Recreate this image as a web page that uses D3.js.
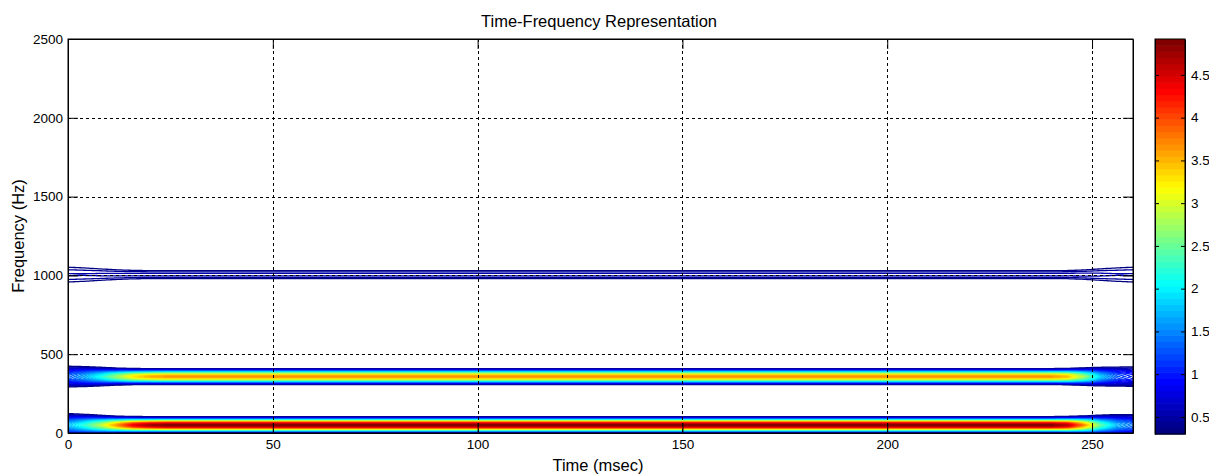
<!DOCTYPE html>
<html>
<head>
<meta charset="utf-8">
<script src="https://cdn.jsdelivr.net/npm/d3@7"></script>
<style>
  body { margin: 0; background: #fff; }
  svg { font-family: "Liberation Sans", Arial, sans-serif; }
</style>
</head>
<body>
<svg id="chart" width="1209" height="476"></svg>
<script>
// ---- data ----
var timeTicks = [0, 50, 100, 150, 200, 250];
var freqTicks = [0, 500, 1000, 1500, 2000, 2500];
var cbarTicks = [0.5, 1, 1.5, 2, 2.5, 3, 3.5, 4, 4.5];

// the three tones: centre frequency (Hz) and peak level
var bandFreqs = [50, 358, 1005];
var bandPeaks = [4.95, 3.7, 0.55];

// shape of a band across frequency: offset from centre (Hz) -> relative level
var profileOffsets = [0, 10, 20, 30, 40, 50, 60, 70, 80];
var profileLevels  = [1, 0.9, 0.7, 0.45, 0.22, 0.09, 0.03, 0.01, 0];

// start / end of the record: gain and spreading of the strong and weak tones
var edgeTimes    = [0, 4, 8, 12, 16, 20, 24, 240, 244, 248, 252, 256, 260];
var gainStrong   = [0.35, 0.45, 0.58, 0.75, 0.9, 0.97, 1, 1, 0.95, 0.75, 0.5, 0.35, 0.28];
var gainWeak     = [0.95, 0.95, 0.97, 0.98, 1, 1, 1, 1, 1, 1, 0.98, 0.95, 0.95];
var spreadStrong = [1.7, 1.5, 1.3, 1.12, 1.04, 1, 1, 1, 1.04, 1.15, 1.35, 1.55, 1.7];
var spreadWeak   = [2.0, 1.8, 1.5, 1.25, 1.08, 1.02, 1, 1, 1.05, 1.2, 1.5, 1.8, 2.0];
var bandGain     = [gainStrong, gainStrong, gainWeak];
var bandSpread   = [spreadStrong, spreadStrong, spreadWeak];

var cMin = 0.3, cMax = 4.92;

// ---- layout ----
var svg = d3.select("#chart");
var plotL = 68, plotR = 1133, plotT = 39, plotB = 433;

var x = d3.scaleLinear().domain([0, 260]).range([plotL, plotR]);
var y = d3.scaleLinear().domain([0, 2500]).range([plotB, plotT]);

// jet colormap
var jet = d3.scaleLinear()
  .domain([0, 1/8, 3/8, 5/8, 7/8, 1])
  .range(["#000080", "#0000ff", "#00ffff", "#ffff00", "#ff0000", "#800000"])
  .clamp(true);
function levelColor(v) { return jet((v - cMin) / (cMax - cMin)); }

// ---- value grid ----
var profile = d3.scaleLinear().domain(profileOffsets).range(profileLevels).clamp(true);
var gainAt = bandGain.map(function(g) {
  return d3.scaleLinear().domain(edgeTimes).range(g).clamp(true);
});
var spreadAt = bandSpread.map(function(s) {
  return d3.scaleLinear().domain(edgeTimes).range(s).clamp(true);
});

var dt = 0.5, df = 2, t0 = -2, f0 = -20;
var nx = Math.round((262 - t0) / dt) + 1;
var ny = Math.round((1120 - f0) / df) + 1;
var values = new Float64Array(nx * ny);

for (var i = 0; i < nx; i++) {
  var t = t0 + i * dt;
  var g = gainAt.map(function(fn) { return fn(t); });
  var s = spreadAt.map(function(fn) { return fn(t); });
  for (var j = 0; j < ny; j++) {
    var f = f0 + j * df;
    var v = 0;
    for (var b = 0; b < bandFreqs.length; b++) {
      v += bandPeaks[b] * g[b] * profile(Math.abs(f - bandFreqs[b]) / s[b]);
    }
    values[j * nx + i] = v;
  }
}

var contourLevels = d3.range(50).map(function(k) { return 0.32 + k * (4.9 - 0.32) / 49; });
var contours = d3.contours().size([nx, ny]).thresholds(contourLevels)(values);

var toScreen = d3.geoTransform({
  point: function(px, py) {
    this.stream.point(x(t0 + (px - 0.5) * dt), y(f0 + (py - 0.5) * df));
  }
});
var path = d3.geoPath(toScreen);

svg.append("clipPath").attr("id", "plotClip")
  .append("rect")
  .attr("x", plotL).attr("y", plotT)
  .attr("width", plotR - plotL).attr("height", plotB - plotT);

svg.append("g")
  .attr("clip-path", "url(#plotClip)")
  .selectAll("path")
  .data(contours)
  .enter()
  .append("path")
  .attr("d", path)
  .attr("fill", "none")
  .attr("stroke", function(d) { return levelColor(d.value); })
  .attr("stroke-width", 1.3);

// ---- grid ----
var grid = svg.append("g")
  .attr("stroke", "#000")
  .attr("stroke-width", 1)
  .attr("stroke-dasharray", "3,3")
  .attr("shape-rendering", "crispEdges");

grid.selectAll(".vgrid")
  .data(timeTicks.filter(function(d) { return d > 0; }))
  .enter().append("line")
  .attr("x1", function(d) { return Math.round(x(d)) + 0.5; })
  .attr("x2", function(d) { return Math.round(x(d)) + 0.5; })
  .attr("y1", plotT).attr("y2", plotB);

grid.selectAll(".hgrid")
  .data(freqTicks.filter(function(d) { return d > 0 && d < 2500; }))
  .enter().append("line")
  .attr("y1", function(d) { return Math.round(y(d)) + 0.5; })
  .attr("y2", function(d) { return Math.round(y(d)) + 0.5; })
  .attr("x1", plotL).attr("x2", plotR);

// ---- axes ----
var tickLen = 10;
var fmt = d3.format("d");
var xAxisB = d3.axisBottom(x).tickValues(timeTicks).tickSizeInner(-tickLen).tickSizeOuter(0).tickPadding(6).tickFormat(fmt);
var xAxisT = d3.axisTop(x).tickValues(timeTicks).tickSizeInner(-tickLen).tickSizeOuter(0).tickFormat("");
var yAxisL = d3.axisLeft(y).tickValues(freqTicks).tickSizeInner(-tickLen).tickSizeOuter(0).tickPadding(5).tickFormat(fmt);
var yAxisR = d3.axisRight(y).tickValues(freqTicks).tickSizeInner(-tickLen).tickSizeOuter(0).tickFormat("");

function styleAxis(g) {
  g.selectAll("path").attr("stroke", "#000");
  g.selectAll("line").attr("stroke", "#000");
  g.selectAll("text").attr("fill", "#000").attr("font-size", "13.5px")
    .attr("font-family", "'Liberation Sans', Arial, sans-serif");
}

svg.append("g").attr("transform", "translate(0," + plotB + ")").call(xAxisB).call(styleAxis);
svg.append("g").attr("transform", "translate(0," + plotT + ")").call(xAxisT).call(styleAxis);
svg.append("g").attr("transform", "translate(" + plotL + ",0)").call(yAxisL).call(styleAxis);
svg.append("g").attr("transform", "translate(" + plotR + ",0)").call(yAxisR).call(styleAxis);

svg.append("rect")
  .attr("x", plotL).attr("y", plotT)
  .attr("width", plotR - plotL).attr("height", plotB - plotT)
  .attr("fill", "none").attr("stroke", "#000").attr("stroke-width", 1);

// ---- titles ----
svg.append("text")
  .attr("x", 599).attr("y", 27)
  .attr("text-anchor", "middle").attr("font-size", "16.5px").attr("fill", "#000")
  .text("Time-Frequency Representation");

svg.append("text")
  .attr("x", 598).attr("y", 471)
  .attr("text-anchor", "middle").attr("font-size", "16.5px").attr("fill", "#000")
  .text("Time (msec)");

svg.append("text")
  .attr("transform", "translate(24," + ((plotT + plotB) / 2) + ") rotate(-90)")
  .attr("text-anchor", "middle").attr("font-size", "16.5px").attr("fill", "#000")
  .text("Frequency (Hz)");

// ---- colorbar ----
var cbLeft = 1155, cbRight = 1185, cbTop = 39, cbBottom = 434;
var cy = d3.scaleLinear().domain([cMin, cMax]).range([cbBottom, cbTop]);
var nColors = 64;
var slices = d3.range(nColors);

svg.append("g").selectAll("rect")
  .data(slices)
  .enter().append("rect")
  .attr("x", cbLeft)
  .attr("y", function(k) { return cbBottom - (k + 1) * (cbBottom - cbTop) / nColors; })
  .attr("width", cbRight - cbLeft)
  .attr("height", (cbBottom - cbTop) / nColors + 0.6)
  .attr("fill", function(k) { return jet(k / (nColors - 1)); });

var cbAxisR = d3.axisRight(cy).tickValues(cbarTicks).tickSizeInner(-4).tickSizeOuter(0).tickPadding(6)
  .tickFormat(function(d) { return String(d); });
var cbAxisL = d3.axisLeft(cy).tickValues(cbarTicks).tickSizeInner(-4).tickSizeOuter(0).tickFormat("");
svg.append("g").attr("transform", "translate(" + cbRight + ",0)").call(cbAxisR).call(styleAxis);
svg.append("g").attr("transform", "translate(" + cbLeft + ",0)").call(cbAxisL).call(styleAxis);
svg.append("rect")
  .attr("x", cbLeft).attr("y", cbTop)
  .attr("width", cbRight - cbLeft).attr("height", cbBottom - cbTop)
  .attr("fill", "none").attr("stroke", "#000");
</script>
</body>
</html>
